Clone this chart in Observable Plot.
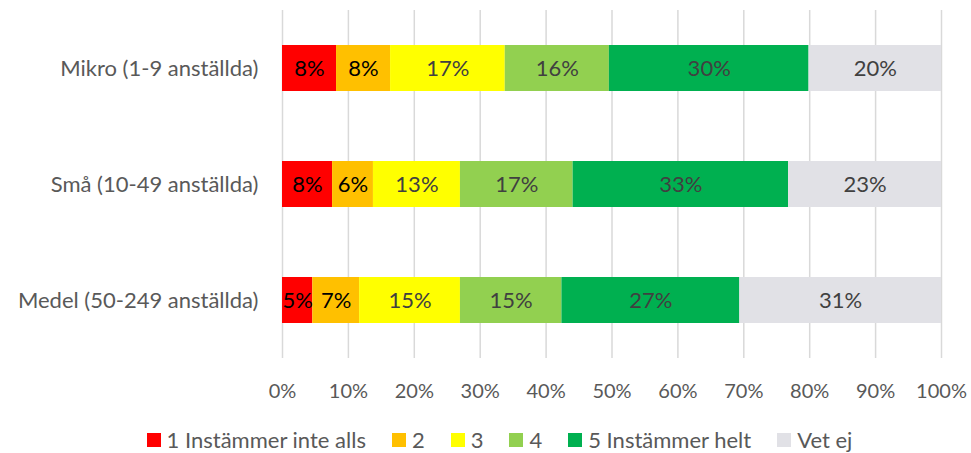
<!DOCTYPE html>
<html>
<head>
<meta charset="utf-8">
<script src="https://cdn.jsdelivr.net/npm/d3@7"></script>
<script src="https://cdn.jsdelivr.net/npm/@observablehq/plot@0.6"></script>
<style>
  html, body { margin: 0; padding: 0; background: #fff; }
  #chart svg { display: block; }
  .legend { display: flex; justify-content: center; align-items: center; gap: 0; margin-top: 17px; padding-left: 28px;
    font-family: Lato, sans-serif; font-size: 22px; color: #595959; line-height: 26px; }
  .legend .item { display: flex; align-items: center; margin: 0 13px; }
  .legend .sw { width: 14px; height: 14px; margin-right: 6px; }
</style>
</head>
<body>
<div id="chart"></div>
<div class="legend" id="legend"></div>
<script>
const categories = ["Mikro (1-9 anställda)", "Små (10-49 anställda)", "Medel (50-249 anställda)"];
const seriesNames = ["1 Instämmer inte alls", "2", "3", "4", "5 Instämmer helt", "Vet ej"];
const seriesColors = ["#FF0000", "#FFC000", "#FFFF00", "#92D050", "#00B050", "#E1E1E6"];
const mikro = [8.2, 8.2, 17.4, 15.8, 30.3, 20.1];
const sma   = [7.6, 6.2, 13.2, 17.1, 32.7, 23.2];
const medel = [4.6, 7.1, 15.3, 15.4, 27.0, 30.6];
const xTicks = [0, 10, 20, 30, 40, 50, 60, 70, 80, 90, 100];

const seriesByCategory = [mikro, sma, medel];
const data = [];
categories.forEach((c, i) => {
  seriesNames.forEach((s, j) => {
    data.push({category: c, series: s, value: seriesByCategory[i][j], dark: j < 2});
  });
});

const font = "Lato, sans-serif";
const chart = Plot.plot({
  width: 971,
  height: 410,
  marginLeft: 282,
  marginRight: 30,
  marginTop: 10,
  marginBottom: 52,
  style: {fontFamily: font, fontSize: "20px", color: "#595959", background: "#fff"},
  x: {domain: [0, 100], ticks: xTicks, tickFormat: d => d + "%", tickSize: 0, tickPadding: 25, label: null, grid: false},
  y: {domain: categories, paddingInner: 0.603, paddingOuter: 0.30, tickSize: 0, tickPadding: 24, label: null},
  color: {domain: seriesNames, range: seriesColors},
  marks: [
    Plot.gridX(xTicks, {stroke: "#D9D9D9", strokeOpacity: 1, strokeWidth: 1.5}),
    Plot.axisY({tickSize: 0, tickPadding: 24, fontSize: 22, fill: "#595959"}),
    Plot.barX(data, {x: "value", y: "category", fill: "series"}),
    Plot.text(data, Plot.stackX({x: "value", y: "category", text: d => Math.round(d.value) + "%",
      fill: d => d.dark ? "#000000" : "#404040", fontSize: 22, fontFamily: font}))
  ]
});
document.getElementById("chart").appendChild(chart);

const legend = document.getElementById("legend");
seriesNames.forEach((s, j) => {
  const item = document.createElement("div");
  item.className = "item";
  const sw = document.createElement("span");
  sw.className = "sw";
  sw.style.background = seriesColors[j];
  const t = document.createElement("span");
  t.textContent = s;
  item.appendChild(sw);
  item.appendChild(t);
  legend.appendChild(item);
});
</script>
</body>
</html>
